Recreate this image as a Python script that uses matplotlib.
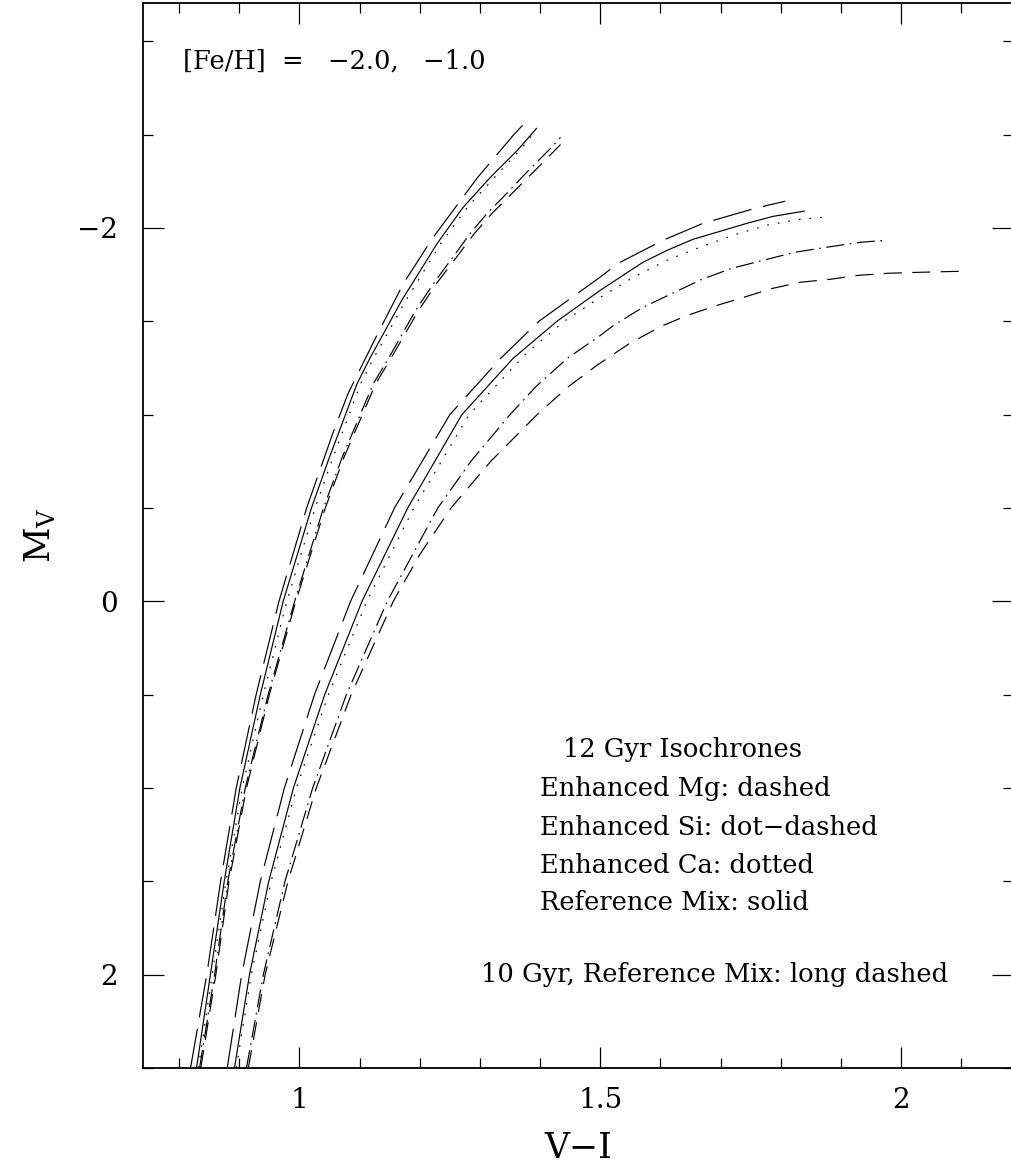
import matplotlib
matplotlib.use("Agg")
import matplotlib.pyplot as plt
from matplotlib.ticker import MultipleLocator, FuncFormatter

plt.rcParams['font.family'] = ['DejaVu Serif']
plt.rcParams['mathtext.fontset'] = 'dejavuserif'
plt.rcParams['lines.scale_dashes'] = False

# [Fe/H] = -2.0 isochrones (M_V, V-I)
ld_m2_y = [2.5, 2.0, 1.5, 1.0, 0.5, 0.0, -0.5, -0.905, -1.114, -1.44, -1.703, -1.944, -2.27, -2.495, -2.554]
ld_m2_x = [0.819, 0.846, 0.869, 0.895, 0.928, 0.966, 1.012, 1.056, 1.081, 1.131, 1.173, 1.221, 1.296, 1.355, 1.372]
ref_m2_y = [2.5, 2.0, 1.5, 1.0, 0.5, 0.0, -0.5, -0.755, -1.167, -1.301, -1.612, -1.917, -2.110, -2.270, -2.415, -2.533]
ref_m2_x = [0.829, 0.852, 0.875, 0.901, 0.935, 0.973, 1.020, 1.048, 1.096, 1.117, 1.170, 1.229, 1.272, 1.317, 1.362, 1.394]
ca_m2_y = [2.5, 2.0, 1.5, 1.0, 0.5, 0.0, -0.5, -0.755, -1.167, -1.301, -1.612, -1.917, -2.110, -2.270, -2.415, -2.506]
ca_m2_x = [0.832, 0.855, 0.878, 0.905, 0.940, 0.979, 1.026, 1.054, 1.102, 1.123, 1.177, 1.235, 1.279, 1.324, 1.366, 1.389]
si_m2_y = [2.5, 2.0, 1.5, 1.0, 0.5, 0.0, -0.5, -0.771, -1.167, -1.301, -1.558, -1.703, -1.826, -1.971,
           -2.078, -2.190, -2.319, -2.415, -2.485]
si_m2_x = [0.834, 0.859, 0.881, 0.910, 0.948, 0.992, 1.040, 1.071, 1.123, 1.148, 1.193, 1.223, 1.251, 1.284,
           1.312, 1.346, 1.384, 1.414, 1.434]
mg_m2_y = [2.5, 2.0, 1.5, 1.0, 0.5, 0.0, -0.5, -0.771, -1.167, -1.301, -1.558, -1.703, -1.826, -1.971,
           -2.078, -2.190, -2.319, -2.447]
mg_m2_x = [0.836, 0.861, 0.883, 0.912, 0.950, 0.994, 1.043, 1.074, 1.127, 1.152, 1.198, 1.228, 1.257, 1.291,
           1.320, 1.355, 1.395, 1.434]

# [Fe/H] = -1.0 isochrones
ld_m1_y = [2.5, 2.0, 1.5, 1.0, 0.5, 0.0, -0.5, -1.0, -1.3, -1.5, -1.73, -1.811, -1.907, -1.939, -2.025,
           -2.046, -2.105, -2.143]
ld_m1_x = [0.880, 0.904, 0.935, 0.975, 1.025, 1.085, 1.158, 1.250, 1.334, 1.398, 1.497, 1.530, 1.588, 1.608,
           1.671, 1.694, 1.757, 1.807]
ref_m1_y = [2.5, 2.0, 1.5, 1.0, 0.5, 0.0, -0.5, -1.0, -1.301, -1.5, -1.666, -1.736, -1.816, -1.880, -1.939,
            -1.982, -2.025, -2.062, -2.090]
ref_m1_x = [0.892, 0.917, 0.949, 0.990, 1.042, 1.104, 1.180, 1.270, 1.355, 1.428, 1.500, 1.533, 1.571, 1.611,
            1.654, 1.699, 1.744, 1.787, 1.839]
ca_m1_y = [2.5, 2.0, 1.5, 1.0, 0.5, 0.0, -0.5, -1.0, -1.328, -1.5, -1.628, -1.736, -1.827, -1.897, -1.961,
           -2.015, -2.046, -2.057]
ca_m1_x = [0.895, 0.920, 0.953, 0.995, 1.048, 1.112, 1.190, 1.282, 1.377, 1.440, 1.500, 1.555, 1.611, 1.666,
           1.721, 1.777, 1.832, 1.870]
si_m1_y = [2.5, 2.0, 1.5, 1.0, 0.5, 0.0, -0.5, -0.75, -1.0, -1.15, -1.301, -1.424, -1.478, -1.575, -1.650,
           -1.725, -1.784, -1.827, -1.870, -1.897, -1.923, -1.933]
si_m1_x = [0.912, 0.940, 0.976, 1.022, 1.078, 1.146, 1.230, 1.285, 1.350, 1.393, 1.445, 1.500, 1.522, 1.571,
           1.620, 1.669, 1.719, 1.771, 1.824, 1.877, 1.932, 1.970]
mg_m1_y = [2.5, 2.0, 1.5, 1.0, 0.5, 0.0, -0.25, -0.5, -0.75, -1.0, -1.15, -1.27, -1.38, -1.473, -1.532,
           -1.585, -1.628, -1.676, -1.709, -1.725, -1.746, -1.757, -1.762, -1.768]
mg_m1_x = [0.915, 0.943, 0.981, 1.028, 1.086, 1.156, 1.200, 1.252, 1.318, 1.395, 1.447, 1.497, 1.548, 1.601,
           1.645, 1.694, 1.738, 1.786, 1.832, 1.882, 1.929, 1.977, 2.025, 2.101]

legend_lines = ["Enhanced Mg: dashed", "Enhanced Si: dot\u2212dashed",
                "Enhanced Ca: dotted", "Reference Mix: solid"]
legend_ys = [1.045, 1.254, 1.457, 1.655]

fig = plt.figure(figsize=(10.11, 11.67), dpi=100)
ax = fig.add_axes([143 / 1011, 99 / 1167, 870 / 1011, 1065 / 1167])

lw = 0.85
styles = {
    "ld": dict(dashes=(28.5, 8.5)),
    "ref": dict(linestyle="-"),
    "ca": dict(dashes=(1.2, 6.5)),
    "si": dict(dashes=(13, 4, 1.2, 4)),
    "mg": dict(dashes=(13, 7.5)),
}
curves = [
    ("ld", ld_m2_x, ld_m2_y), ("ref", ref_m2_x, ref_m2_y), ("ca", ca_m2_x, ca_m2_y),
    ("si", si_m2_x, si_m2_y), ("mg", mg_m2_x, mg_m2_y),
    ("ld", ld_m1_x, ld_m1_y), ("ref", ref_m1_x, ref_m1_y), ("ca", ca_m1_x, ca_m1_y),
    ("si", si_m1_x, si_m1_y), ("mg", mg_m1_x, mg_m1_y),
]
for key, xs, ys in curves:
    ax.plot(xs, ys, color="black", lw=lw, **styles[key])

ax.set_xlim(0.74, 2.186)
ax.set_ylim(2.5, -3.205)

ax.xaxis.set_major_locator(MultipleLocator(0.5))
ax.xaxis.set_minor_locator(MultipleLocator(0.1))
ax.yaxis.set_major_locator(MultipleLocator(2))
ax.yaxis.set_minor_locator(MultipleLocator(0.5))
ax.xaxis.set_major_formatter(FuncFormatter(lambda v, p: "%g" % v))
ax.yaxis.set_major_formatter(FuncFormatter(lambda v, p: ("%g" % v).replace("-", "\u2212")))
ax.tick_params(which="both", direction="in", top=True, right=True, width=0.9,
               labelsize=20, color="black")
ax.tick_params(which="major", length=15)
ax.tick_params(which="minor", length=7.5)
ax.tick_params(axis="x", pad=14)
ax.tick_params(axis="y", pad=18)
for s in ax.spines.values():
    s.set_linewidth(1.3)

ax.set_xlabel("V\u2212I", fontsize=25, labelpad=12)
ax.set_ylabel("M$_\\mathregular{V}$", fontsize=25, labelpad=14)

ax.text(0.807, -2.855, "[Fe/H]  =   \u22122.0,   \u22121.0", fontsize=18.5, va="baseline")
ax.text(1.636, 0.836, "12 Gyr Isochrones", fontsize=18.5, ha="center", va="baseline")
for t, yy in zip(legend_lines, legend_ys):
    ax.text(1.400, yy, t, fontsize=18.5, va="baseline")
ax.text(1.302, 2.041, "10 Gyr, Reference Mix: long dashed", fontsize=18.5, va="baseline")

fig.savefig("out.png", dpi=100)
